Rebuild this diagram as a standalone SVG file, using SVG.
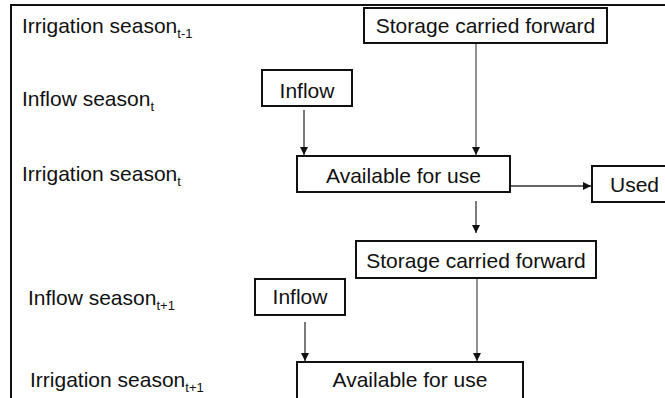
<svg xmlns="http://www.w3.org/2000/svg" width="665" height="398" viewBox="0 0 665 398">
<style>
text{font-family:"Liberation Sans",Arial,sans-serif;font-size:21px;fill:#111}
.sub{font-size:13px}
.box{fill:#fff;stroke:#111;stroke-width:2}
.c{stroke:#333;stroke-width:1.3;fill:none}
.g{stroke:#555}
.m{text-anchor:middle}
</style>
<defs>
<marker id="ah" viewBox="0 0 10 10" refX="10" refY="5" markerWidth="8" markerHeight="8" markerUnits="userSpaceOnUse" orient="auto"><path d="M0,0L10,5L0,10z" fill="#111"/></marker>
</defs>
<rect x="0" y="0" width="665" height="398" fill="#fff"/>
<path d="M11,398V5H665" fill="none" stroke="#111" stroke-width="2"/>
<g id="labels">
<text x="22" y="33">Irrigation season<tspan class="sub" dy="5">t-1</tspan></text>
<text x="22" y="106">Inflow season<tspan class="sub" dy="5">t</tspan></text>
<text x="22" y="181">Irrigation season<tspan class="sub" dy="5">t</tspan></text>
<text x="28" y="305">Inflow season<tspan class="sub" dy="5">t+1</tspan></text>
<text x="30" y="387">Irrigation season<tspan class="sub" dy="5">t+1</tspan></text>
</g>
<g id="connectors">
<line class="c g" x1="476" y1="44" x2="476" y2="155" marker-end="url(#ah)"/>
<line class="c" x1="304" y1="110" x2="304" y2="155" marker-end="url(#ah)"/>
<line class="c" x1="510" y1="186" x2="591" y2="186" marker-end="url(#ah)"/>
<line class="c" x1="476" y1="201" x2="476" y2="233" marker-end="url(#ah)"/>
<line class="c" x1="305" y1="322" x2="305" y2="361" marker-end="url(#ah)"/>
<line class="c g" x1="477" y1="278" x2="477" y2="361" marker-end="url(#ah)"/>
</g>
<g id="storage1"><rect class="box" x="364" y="8" width="243" height="35"/><text class="m" x="485.5" y="33">Storage carried forward</text></g>
<g id="inflow1"><rect class="box" x="262" y="70" width="90" height="36"/><text class="m" x="307" y="98">Inflow</text></g>
<g id="available1"><rect class="box" x="297" y="156" width="213" height="36"/><text class="m" x="403.5" y="183">Available for use</text></g>
<g id="used"><rect class="box" x="592" y="166" width="80" height="36"/><text x="610" y="192">Used</text></g>
<g id="storage2"><rect class="box" x="356" y="241" width="240" height="37"/><text class="m" x="476" y="268">Storage carried forward</text></g>
<g id="inflow2"><rect class="box" x="255" y="279" width="90" height="36"/><text class="m" x="300" y="304">Inflow</text></g>
<g id="available2"><rect class="box" x="297" y="362" width="226" height="50"/><text class="m" x="410" y="387">Available for use</text></g>
</svg>
